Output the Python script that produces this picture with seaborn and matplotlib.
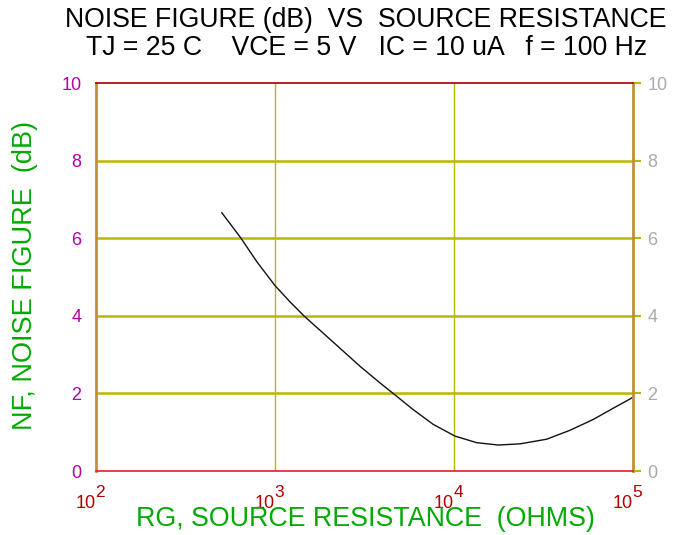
import math
import seaborn as sns
import matplotlib.pyplot as plt
import pandas as pd
from matplotlib.ticker import FixedLocator, NullLocator

# values
rg_ohms = [504, 646, 790, 1000, 1213, 1458, 2117, 2985, 3861, 4487, 5925,
           7663, 10130, 13395, 17680, 23370, 32950, 44460, 60000, 77620, 100000]
nf_db = [6.66, 6.00, 5.40, 4.78, 4.36, 3.99, 3.32, 2.70, 2.27, 2.03, 1.58,
         1.20, 0.90, 0.73, 0.67, 0.70, 0.82, 1.05, 1.33, 1.62, 1.90]

x_ticks = [1e2, 1e3, 1e4, 1e5]
y_ticks = [0, 2, 4, 6, 8, 10]

title_1 = "NOISE FIGURE (dB)  VS  SOURCE RESISTANCE"
title_2 = "TJ = 25 C    VCE = 5 V   IC = 10 uA   f = 100 Hz"
x_label = "RG, SOURCE RESISTANCE  (OHMS)"
y_label = "NF, NOISE FIGURE  (dB)"

df = pd.DataFrame({"rg": rg_ohms, "nf": nf_db})

sns.set_style("white")
plt.rcParams["font.family"] = ["Liberation Sans", "DejaVu Sans"]

grid_col = "#b8b800"
xtick_col = "#b00000"

fig = plt.figure(figsize=(6.73, 5.35), dpi=100)
ax = fig.add_axes([0.1426, 0.1196, 0.798, 0.7252])

sns.lineplot(data=df, x="rg", y="nf", ax=ax, color="#111111", linewidth=1.0)

ax.set_xscale("log")
ax.set_xlim(1e2, 1e5)
ax.set_ylim(0, 10)

# x tick labels: "10" left of the tick, exponent drawn separately at full size
ax.xaxis.set_major_locator(FixedLocator(x_ticks))
ax.xaxis.set_minor_locator(NullLocator())
ax.set_xticklabels(["10"] * len(x_ticks), ha="right")
for xt in x_ticks:
    ax.annotate(str(round(math.log10(xt))), xy=(xt, 0), xycoords=("data", "axes fraction"),
                xytext=(-0.5, -18.5), textcoords="offset points", ha="left", va="baseline",
                fontsize=12.5, color=xtick_col, annotation_clip=False)
ax.set_yticks(y_ticks)

for y in y_ticks[1:-1]:
    ax.axhline(y, color=grid_col, linewidth=1.8, zorder=0)
for x in x_ticks[1:-1]:
    ax.axvline(x, color=grid_col, linewidth=1.0, zorder=0)

ax.spines["top"].set_color("#a00000")
ax.spines["bottom"].set_color("#e02020")
ax.spines["left"].set_color("#c0903a")
ax.spines["right"].set_color("#c0903a")
for s in ax.spines.values():
    s.set_linewidth(1.2)
ax.spines["left"].set_linewidth(2.0)
ax.spines["right"].set_linewidth(2.0)

ax.tick_params(axis="x", direction="out", length=6.5, width=1.0, color="#d8d870",
               labelcolor=xtick_col, labelsize=13, pad=11)
ax.tick_params(axis="y", direction="out", length=6, width=1.5, color=grid_col,
               labelcolor="#b000b0", labelsize=13, pad=4.5,
               right=True, labelright=True)
for t in ax.yaxis.get_major_ticks():
    t.label2.set_color("#aaaaaa")

ax.set_xlabel(x_label, color="#00aa00", fontsize=19.3, va="center")
ax.xaxis.set_label_coords(0.502, -0.124)
ax.set_ylabel(y_label, color="#00aa00", fontsize=19.5, va="center")
ax.yaxis.set_label_coords(-0.132, 0.505)

fig.text(0.543, 1 - 20 / 535, title_1, ha="center", va="center", fontsize=19.2, color="black")
fig.text(0.545, 1 - 48 / 535, title_2, ha="center", va="center", fontsize=19.2, color="black")

fig.savefig("out.png", dpi=100)
